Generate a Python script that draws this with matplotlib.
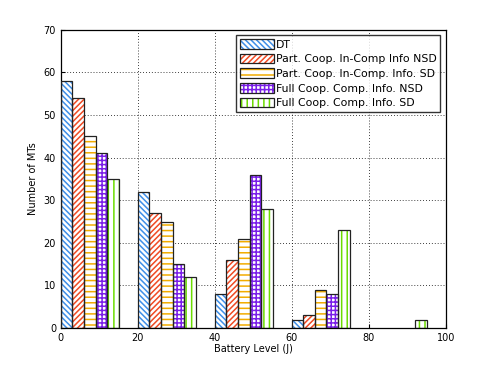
import numpy as np
import matplotlib
matplotlib.use("Agg")
import matplotlib.pyplot as plt
from matplotlib.patches import Patch
from matplotlib.legend_handler import HandlerTuple

# --------------------------------------------------------------------------- #
# Data                                                                         #
# --------------------------------------------------------------------------- #
bin_starts = [0, 20, 40, 60, 80]
labels = ["DT",
          "Part. Coop. In-Comp Info NSD",
          "Part. Coop. In-Comp. Info. SD",
          "Full Coop. Comp. Info. NSD",
          "Full Coop. Comp. Info. SD"]
dt = [58, 32, 8, 2, 0]
part_nsd = [54, 27, 16, 3, 0]
part_sd = [45, 25, 21, 9, 0]
full_nsd = [41, 15, 36, 8, 0]
full_sd = [35, 12, 28, 23, 2]
series = [dt, part_nsd, part_sd, full_nsd, full_sd]

colors = ["#3f8fe8", "#f04a24", "#f2ac00", "#7a1ee8", "#6cdc00"]
hatches = ["\\\\\\\\\\\\", "//////", "---", "++++", "|||"]

plt.rcParams["hatch.linewidth"] = 1.1

fig = plt.figure(figsize=(4.91, 3.69), dpi=100)
ax = fig.add_axes([0.124, 0.111, 0.784, 0.808])

width = 3
x = np.array(bin_starts, dtype=float)
handles = []
for i, (vals, c, h) in enumerate(zip(series, colors, hatches)):
    pos = x + i * width
    v = np.array(vals)
    keep = v > 0
    ax.bar(pos[keep], v[keep], width=width, align="edge", color="white",
           edgecolor=c, hatch=h, linewidth=0, zorder=2)
    ax.bar(pos[keep], v[keep], width=width, align="edge", fill=False,
           edgecolor="#222222", linewidth=0.9, zorder=3)
    handles.append((Patch(facecolor="white", edgecolor=c, hatch=h, linewidth=0),
                    Patch(fill=False, edgecolor="#222222", linewidth=0.9)))

ax.set_xlim(0, 100)
ax.set_ylim(0, 70)
ax.set_xticks([0, 20, 40, 60, 80, 100])
ax.set_yticks(range(0, 71, 10))
ax.tick_params(labelsize=7, direction="in", length=3)
ax.grid(True, color="black", linestyle=(0, (1, 2.5)), linewidth=0.6)
ax.set_axisbelow(True)
for s in ax.spines.values():
    s.set_linewidth(0.9)

ax.set_xlabel("Battery Level (J)", fontsize=7, labelpad=1)
ax.set_ylabel("Number of MTs", fontsize=7, labelpad=4)

leg = ax.legend(handles, labels, handler_map={tuple: HandlerTuple(ndivide=1)},
                loc="upper right", fontsize=7.8, frameon=True, fancybox=False,
                borderpad=0.35, labelspacing=0.38, handlelength=3.1,
                handleheight=1.0, handletextpad=0.2, borderaxespad=0.5)
leg.get_frame().set_edgecolor("black")
leg.get_frame().set_linewidth(1.0)

fig.savefig("out.png", dpi=100)
